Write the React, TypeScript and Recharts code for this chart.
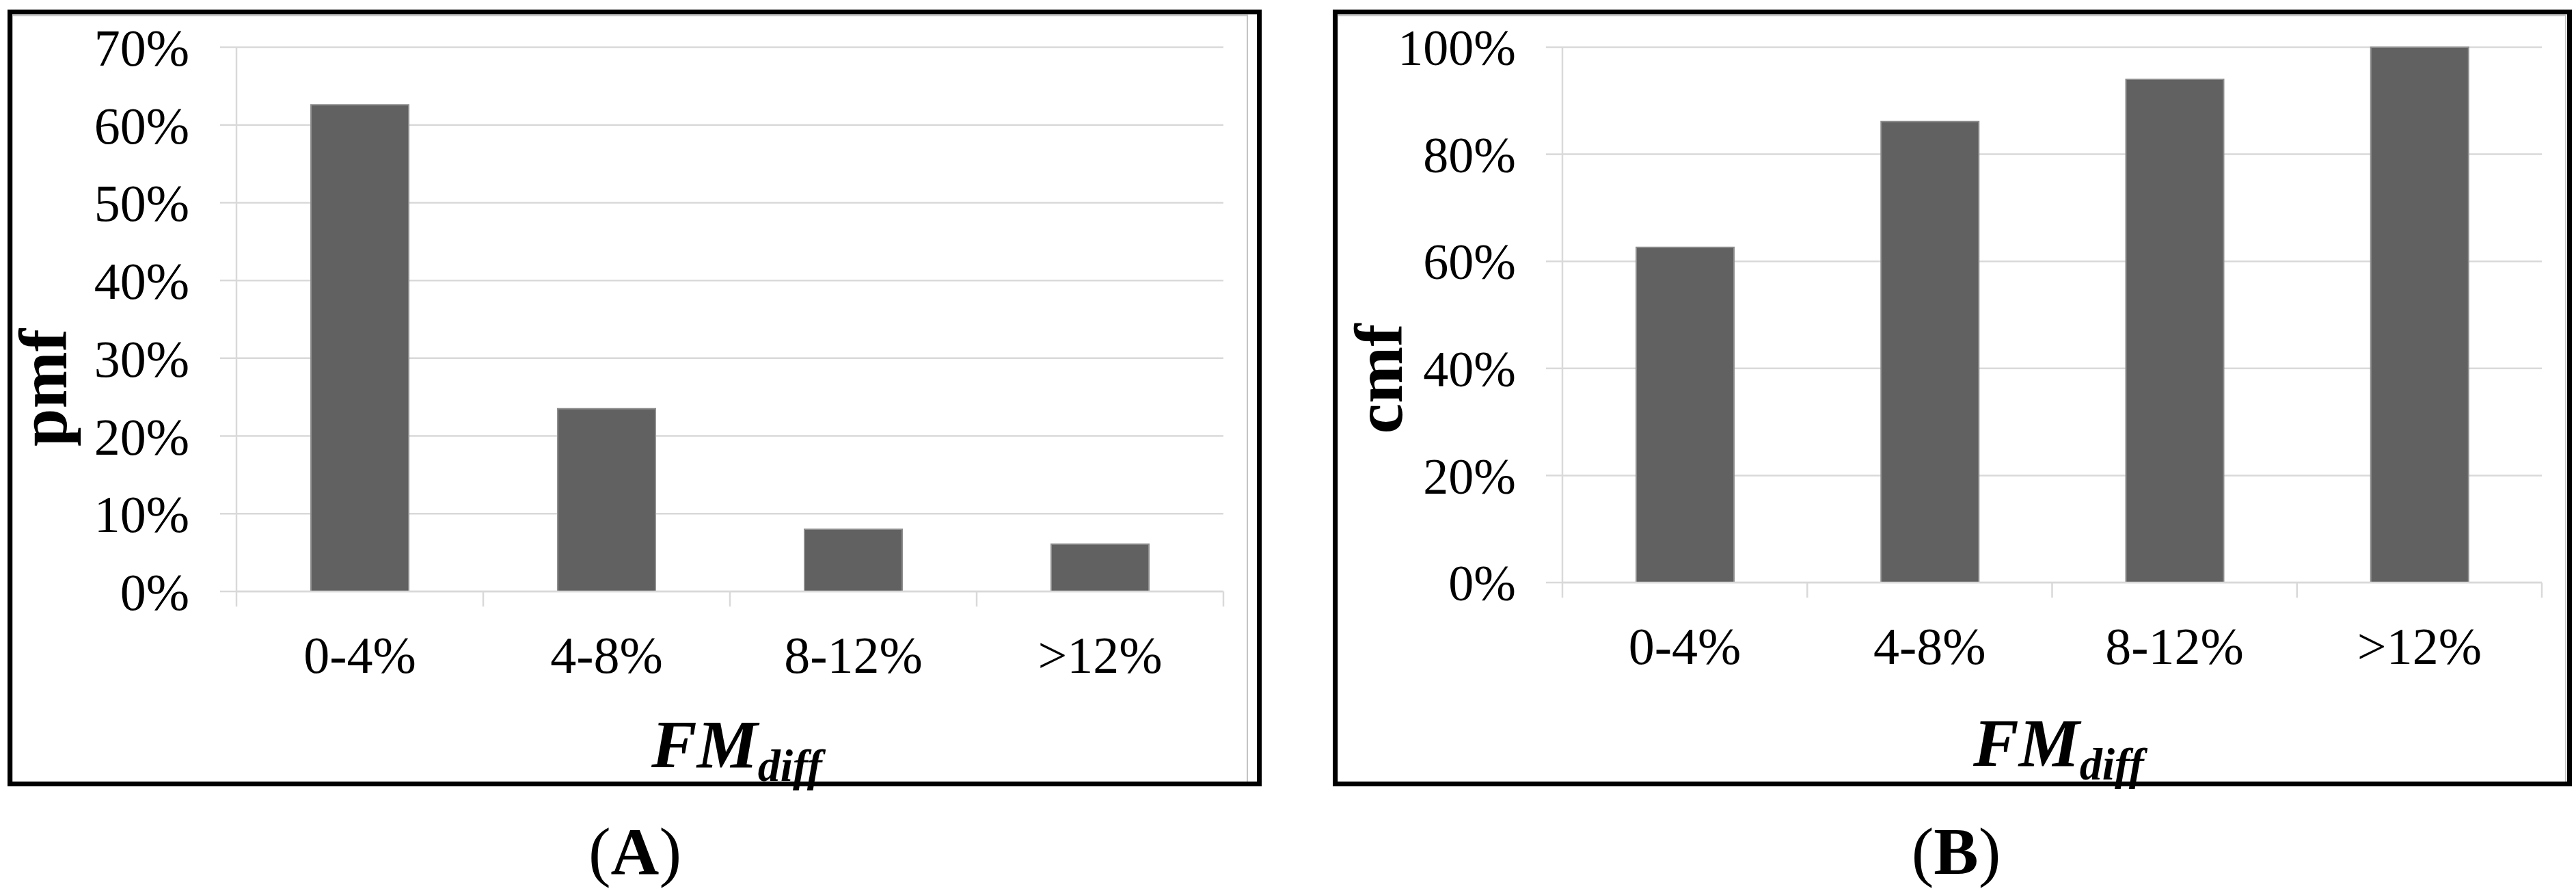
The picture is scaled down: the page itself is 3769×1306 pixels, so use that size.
import React from 'react';
import { BarChart, Bar, XAxis, YAxis, CartesianGrid } from 'recharts';

const categories = ['0-4%', '4-8%', '8-12%', '>12%'];
const pmfValues = [62.6, 23.5, 8.0, 6.1];
const cmfValues = [62.6, 86.1, 94.0, 100];
const pmfTicks = [0, 10, 20, 30, 40, 50, 60, 70];
const cmfTicks = [0, 20, 40, 60, 80, 100];

const dataA = categories.map((c, i) => ({ cat: c, v: pmfValues[i] }));
const dataB = categories.map((c, i) => ({ cat: c, v: cmfValues[i] }));

const GRID = '#d9d9d9';
const SERIF = '"Liberation Serif", "Times New Roman", serif';

function makeCatTick(labelDy: number) {
  return function CatTick(props: any) {
    const { x, y, payload, index, visibleTicksCount, width } = props;
    const half =
      payload && typeof payload.offset === 'number' && payload.offset > 0
        ? payload.offset
        : width / visibleTicksCount / 2;
    return (
      <g>
        <line x1={x - half} x2={x - half} y1={y} y2={y + 22} stroke={GRID} strokeWidth={2.5} />
        {index === visibleTicksCount - 1 && (
          <line x1={x + half} x2={x + half} y1={y} y2={y + 22} stroke={GRID} strokeWidth={2.5} />
        )}
        <text x={x} y={y + labelDy} textAnchor="middle" fontFamily={SERIF} fontSize={76} fill="#000">
          {payload.value}
        </text>
      </g>
    );
  };
}

function Panel(props: {
  data: any[];
  width: number;
  yWidth: number;
  right: number;
  plotBottom: number;
  domainMax: number;
  ticks: number[];
  tickMargin: number;
  tickFont: number;
}) {
  const xH = 150;
  return (
    <BarChart
      width={props.width}
      height={1306}
      data={props.data}
      margin={{ top: 69, right: props.right, left: 0, bottom: 1306 - props.plotBottom - xH }}
      barSize={143}
    >
      <CartesianGrid vertical={false} stroke={GRID} strokeWidth={2.5} />
      <XAxis
        dataKey="cat"
        height={xH}
        interval={0}
        tickSize={0}
        tickMargin={0}
        tickLine={false}
        axisLine={{ stroke: GRID, strokeWidth: 2.5 }}
        tick={makeCatTick(119)}
      />
      <YAxis
        type="number"
        width={props.yWidth}
        domain={[0, props.domainMax]}
        ticks={props.ticks}
        interval={0}
        tickSize={24}
        tickMargin={props.tickMargin}
        tickLine={{ stroke: GRID, strokeWidth: 2.5 }}
        axisLine={{ stroke: GRID, strokeWidth: 2.5 }}
        tickFormatter={(v: number) => `${v}%`}
        tick={{ fontFamily: SERIF, fontSize: props.tickFont, fill: '#000' }}
      />
      <Bar dataKey="v" fill="#616161" stroke="#8e8e8e" strokeWidth={2} isAnimationActive={false} />
    </BarChart>
  );
}

export default function App() {
  return (
    <div
      style={{
        position: 'absolute',
        left: 0,
        top: 0,
        width: 3769,
        height: 1306,
        background: '#fff',
        overflow: 'hidden',
      }}
    >
      <div style={{ position: 'absolute', left: 0, top: 0 }}>
        <Panel
          data={dataA}
          width={1900}
          yWidth={346}
          right={110}
          plotBottom={865}
          domainMax={70}
          ticks={pmfTicks}
          tickMargin={45}
          tickFont={76}
        />
      </div>
      <div style={{ position: 'absolute', left: 1900, top: 0 }}>
        <Panel
          data={dataB}
          width={1869}
          yWidth={386}
          right={50}
          plotBottom={852}
          domainMax={100}
          ticks={cmfTicks}
          tickMargin={44}
          tickFont={74}
        />
      </div>
      <svg
        width={3769}
        height={1306}
        style={{ position: 'absolute', left: 0, top: 0, pointerEvents: 'none' }}
      >
        {/* axis titles */}
        <text
          x={97}
          y={567}
          transform="rotate(-90 97 567)"
          textAnchor="middle"
          fontFamily={SERIF}
          fontWeight="bold"
          fontSize={100}
          fill="#000"
        >
          pmf
        </text>
        <text
          x={2051}
          y={554}
          transform="rotate(-90 2051 554)"
          textAnchor="middle"
          fontFamily={SERIF}
          fontWeight="bold"
          fontSize={100}
          fill="#000"
        >
          cmf
        </text>
        <text x={953} y={1122} fontFamily={SERIF} fontWeight="bold" fontStyle="italic" fontSize={100} fill="#000">
          FM
          <tspan fontSize={66} dy={20}>
            diff
          </tspan>
        </text>
        <text x={2887} y={1120} fontFamily={SERIF} fontWeight="bold" fontStyle="italic" fontSize={100} fill="#000">
          FM
          <tspan fontSize={66} dy={20}>
            diff
          </tspan>
        </text>
        {/* grey chart-area frames */}
        <rect x={18} y={22.5} width={1807} height={1124} fill="none" stroke="#c4c4c4" strokeWidth={2} />
        <rect x={1957} y={22.5} width={1797} height={1124} fill="none" stroke="#c4c4c4" strokeWidth={2} />
        {/* black borders */}
        <rect x={14.5} y={17.5} width={1828} height={1129} fill="none" stroke="#000" strokeWidth={7} />
        <rect x={1953.5} y={17.5} width={1806} height={1129} fill="none" stroke="#000" strokeWidth={7} />
        {/* captions */}
        <text x={929} y={1278} textAnchor="middle" fontFamily={SERIF} fontSize={98} fill="#000">
          (<tspan fontWeight="bold">A</tspan>)
        </text>
        <text x={2862} y={1278} textAnchor="middle" fontFamily={SERIF} fontSize={98} fill="#000">
          (<tspan fontWeight="bold">B</tspan>)
        </text>
      </svg>
    </div>
  );
}
